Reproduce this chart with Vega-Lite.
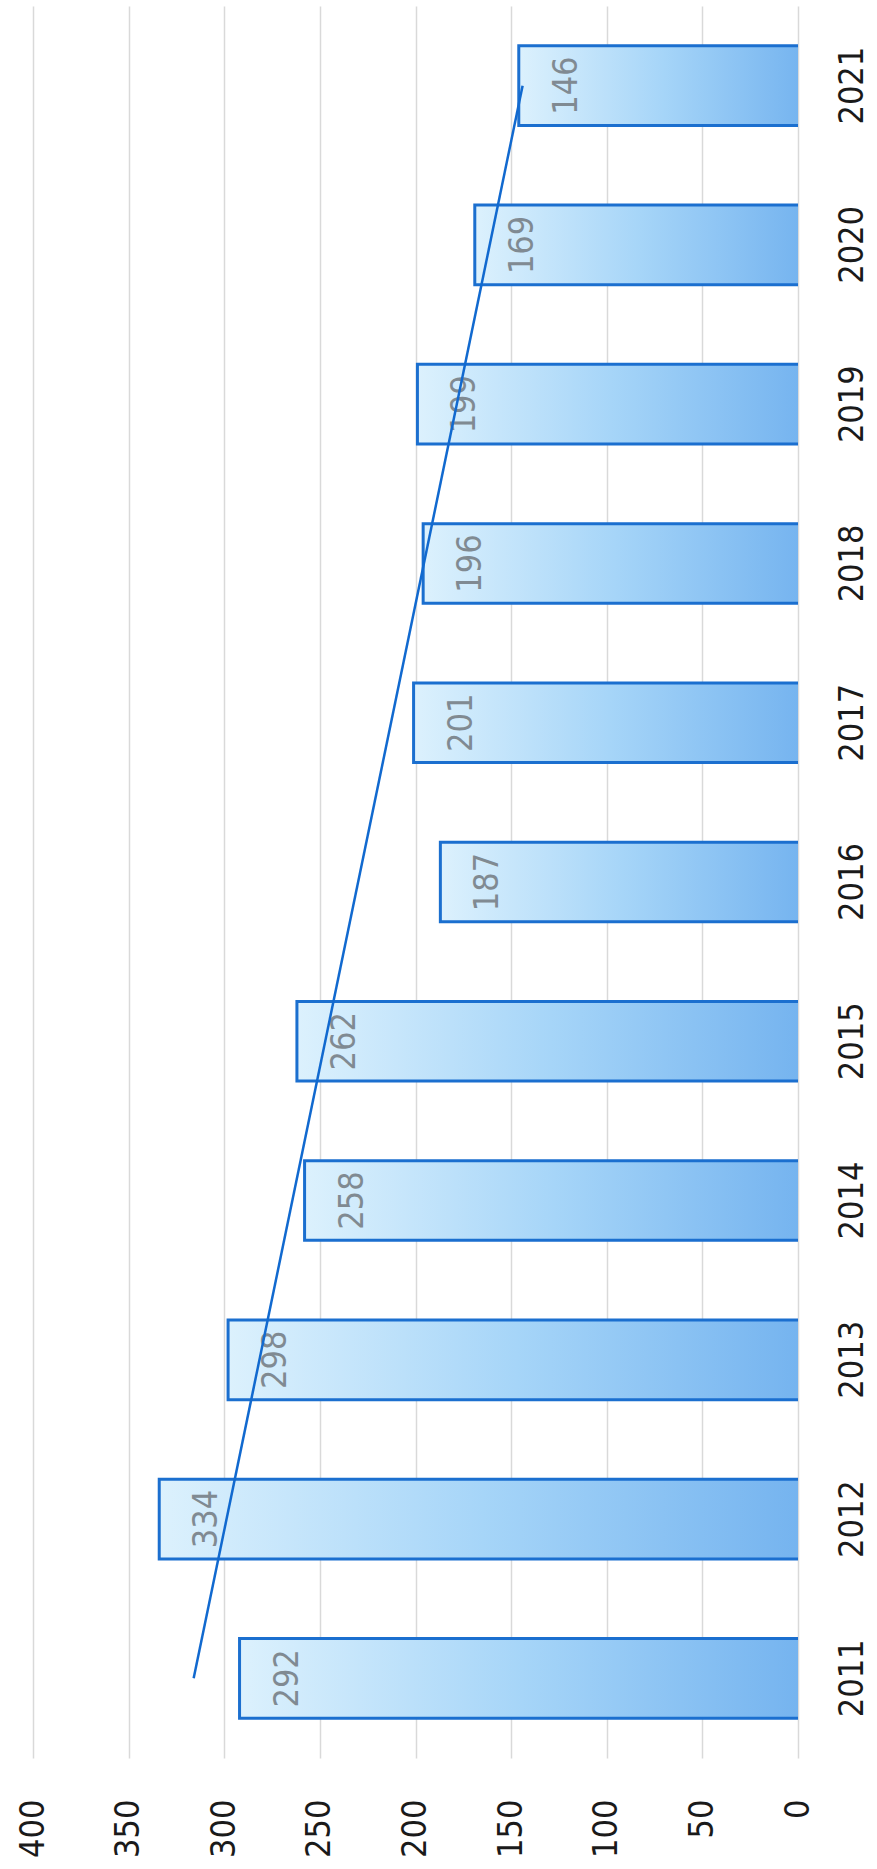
{
  "$schema": "https://vega.github.io/schema/vega-lite/v6.json",
  "autosize": "none",
  "padding": {"left": 33, "top": 6, "right": 79, "bottom": 111},
  "width": 765,
  "height": 1752,
  "background": "white",
  "config": {"view": {"stroke": null}, "font": "DejaVu Sans Condensed"},
  "datasets": {
    "bars": [
      {"year": "2011", "count": 292},
      {"year": "2012", "count": 334},
      {"year": "2013", "count": 298},
      {"year": "2014", "count": 258},
      {"year": "2015", "count": 262},
      {"year": "2016", "count": 187},
      {"year": "2017", "count": 201},
      {"year": "2018", "count": 196},
      {"year": "2019", "count": 199},
      {"year": "2020", "count": 169},
      {"year": "2021", "count": 146}
    ],
    "trend": [
      {"year": "2011", "trend": 316},
      {"year": "2021", "trend": 144}
    ]
  },
  "encoding": {
    "y": {
      "field": "year",
      "type": "ordinal",
      "sort": "descending",
      "scale": {"paddingInner": 0.5, "paddingOuter": 0.25},
      "axis": {
        "orient": "right",
        "title": null,
        "domain": false,
        "ticks": false,
        "grid": false,
        "labelAngle": 270,
        "labelAlign": "center",
        "labelBaseline": "top",
        "labelPadding": 37,
        "labelFontSize": 34,
        "labelColor": "#1a1a1a",
        "labelFont": "DejaVu Sans Condensed"
      }
    }
  },
  "layer": [
    {
      "data": {"name": "bars"},
      "mark": {
        "type": "bar",
        "clip": true,
        "stroke": "#1b6fcf",
        "strokeWidth": 3,
        "fill": {
          "gradient": "linear",
          "x1": 0, "y1": 0, "x2": 1, "y2": 0,
          "stops": [
            {"offset": 0, "color": "#dcf1fd"},
            {"offset": 0.5, "color": "#a6d5f8"},
            {"offset": 1, "color": "#74b3ef"}
          ]
        }
      },
      "encoding": {
        "x": {
          "field": "count",
          "type": "quantitative",
          "scale": {"domain": [0, 400], "reverse": true, "nice": false, "zero": true},
          "axis": {
            "orient": "bottom",
            "title": null,
            "values": [0, 50, 100, 150, 200, 250, 300, 350, 400],
            "domain": false,
            "ticks": false,
            "grid": true,
            "gridColor": "#d9d9d9",
            "gridWidth": 1.5,
            "labelAngle": 270,
            "labelAlign": "right",
            "labelBaseline": "middle",
            "labelPadding": 41,
            "labelFontSize": 34,
            "labelColor": "#1a1a1a",
            "labelFont": "DejaVu Sans Condensed"
          }
        },
        "x2": {"datum": -4}
      }
    },
    {
      "data": {"name": "bars"},
      "mark": {
        "type": "text",
        "angle": 270,
        "align": "center",
        "baseline": "top",
        "dy": 31,
        "fontSize": 34,
        "font": "DejaVu Sans Condensed",
        "color": "#808a92"
      },
      "encoding": {
        "x": {"field": "count", "type": "quantitative"},
        "text": {"field": "count", "type": "quantitative"}
      }
    },
    {
      "data": {"name": "trend"},
      "mark": {"type": "line", "color": "#1169cf", "strokeWidth": 2.5},
      "encoding": {
        "x": {"field": "trend", "type": "quantitative"}
      }
    }
  ]
}
